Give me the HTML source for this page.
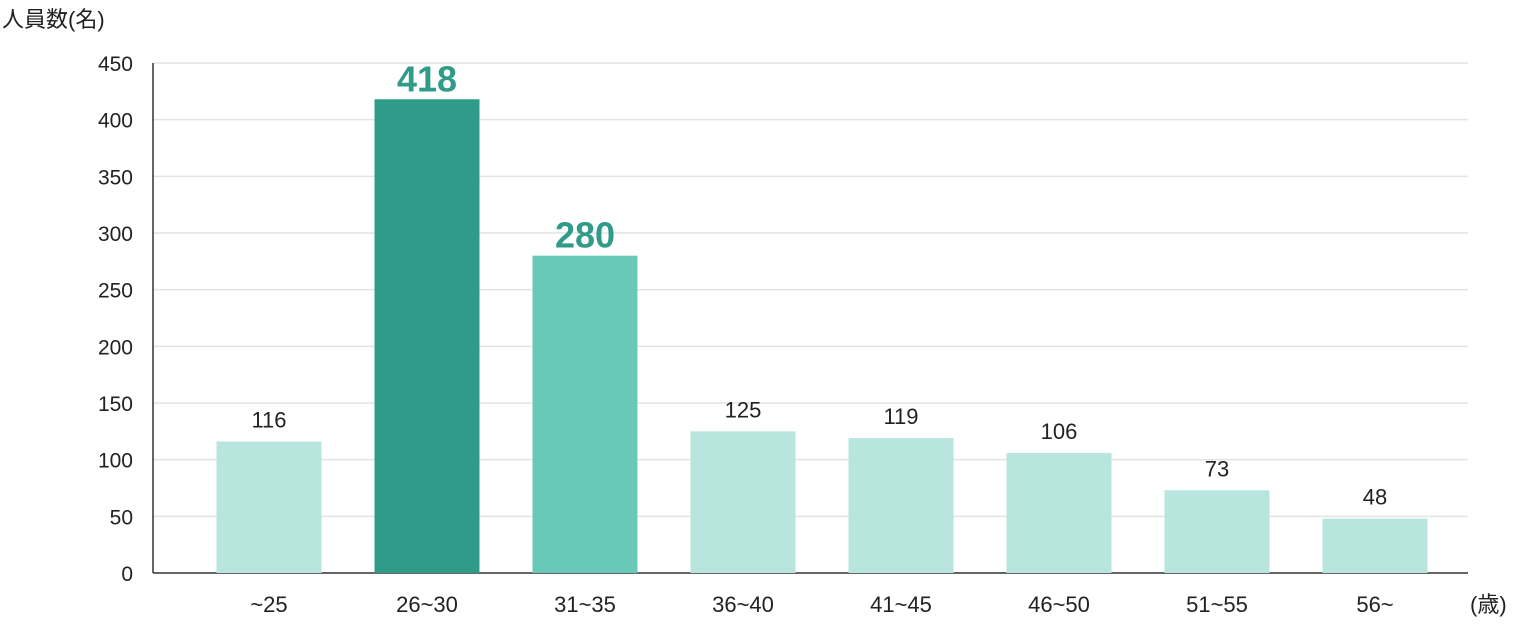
<!DOCTYPE html>
<html><head><meta charset="utf-8">
<style>
html,body{margin:0;padding:0;background:#fff;}
svg{display:block;font-family:"Liberation Sans","Noto Sans CJK JP",sans-serif;}
</style></head>
<body>
<svg id="chart" width="1520" height="626" viewBox="0 0 1520 626" xmlns="http://www.w3.org/2000/svg">
<text x="2" y="27" font-size="22" fill="#222">人員数(名)</text>
<text x="1470" y="612" font-size="22" fill="#222">(歳)</text>
</svg>
<script>
const categories=["~25","26~30","31~35","36~40","41~45","46~50","51~55","56~"];
const values=[116,418,280,125,119,106,73,48];
const highlight=["light","dark","mid","light","light","light","light","light"];
const yTicks=[0,50,100,150,200,250,300,350,400,450];

const NS="http://www.w3.org/2000/svg";
const svg=document.getElementById('chart');
const x0=153,x1=1468,yBase=573,yTop=63,yMax=450;
const y=v=>yBase-(v/yMax)*(yBase-yTop);
const step=158,firstC=269,bw=105;
const xc=i=>firstC+i*step;
const colors={light:"#b9e5df",dark:"#319b89",mid:"#69c9b8"};
function mk(t,a){const e=document.createElementNS(NS,t);for(const k in a)e.setAttribute(k,a[k]);svg.appendChild(e);return e;}

yTicks.forEach(t=>{
  if(t>0){const g=mk('line',{x1:x0,x2:x1,y1:y(t),y2:y(t),stroke:"#e3e3e3","stroke-width":1.5});
  
  }
  const l=mk('text',{x:133,y:y(t)+8,"font-size":21,fill:"#222","text-anchor":"end"});
  l.textContent=t;
  
  
});
const ax=mk('line',{x1:x0,x2:x0,y1:yTop,y2:yBase,stroke:"#333","stroke-width":1.5});


const bx=mk('line',{x1:x0,x2:x1,y1:yBase,y2:yBase,stroke:"#333","stroke-width":1.5});



categories.forEach((c,i)=>{
  const v=values[i],h=highlight[i];
  const r=mk('rect',{x:xc(i)-bw/2,y:y(v),width:bw,height:yBase-y(v),fill:colors[h]});
  
  
  const big=h!=="light";
  const vl=mk('text',{x:xc(i),y:y(v)-(big?8:14),"font-size":big?36:22,"font-weight":big?"bold":"normal",fill:big?"#319b89":"#222","text-anchor":"middle"});
  vl.textContent=v;
  
  
  const cl=mk('text',{x:xc(i),y:612,"font-size":22,fill:"#222","text-anchor":"middle"});
  cl.textContent=c;
  
  
});
</script>
</body></html>
